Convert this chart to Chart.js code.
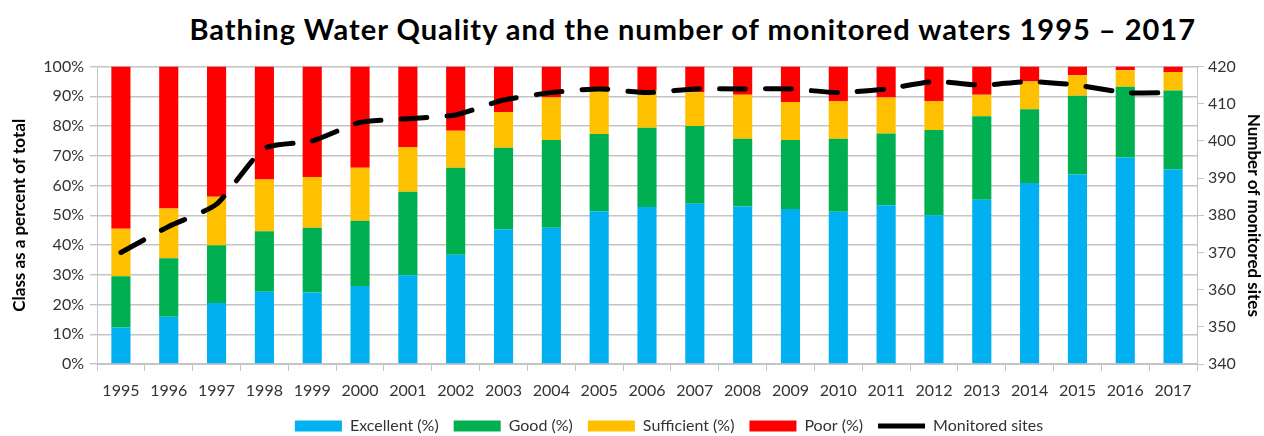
<!DOCTYPE html>
<html>
<head>
<meta charset="utf-8">
<script src="https://cdn.jsdelivr.net/npm/chart.js@4"></script>
<style>
  body { margin: 0; background: #fff; }
  #title {
    width: 1264px; height: 51px; box-sizing: border-box;
    padding-right: 68px; text-align: right;
    font: bold 29px Lato, sans-serif; letter-spacing: 1px; line-height: 58px; color: #000;
    white-space: nowrap; overflow: visible;
  }
  #wrap { width: 1264px; height: 385px; }
</style>
</head>
<body>
<div id="title">Bathing Water Quality and the number of monitored waters 1995 – 2017</div>
<div id="wrap"><canvas id="myChart"></canvas></div>
<script>
const years = ['1995','1996','1997','1998','1999','2000','2001','2002','2003','2004','2005','2006',
  '2007','2008','2009','2010','2011','2012','2013','2014','2015','2016','2017'];

const excellent  = [12.3, 15.9, 20.5, 24.3, 24.0, 26.2, 29.8, 36.7, 45.3, 45.8, 51.4, 52.8,
  53.9, 53.0, 52.1, 51.2, 53.4, 50.0, 55.2, 60.9, 63.7, 69.4, 65.4];
const good       = [17.2, 19.7, 19.4, 20.3, 21.8, 22.0, 28.1, 29.3, 27.4, 29.5, 25.9, 26.6,
  26.1, 22.7, 23.2, 24.5, 24.1, 28.7, 28.1, 24.8, 26.5, 23.8, 26.6];
const sufficient = [16.0, 16.7, 16.3, 17.4, 17.1, 17.8, 15.1, 12.4, 12.0, 14.3, 14.6, 12.5,
  11.4, 14.8, 12.8, 12.7, 12.1, 9.7, 7.2, 9.3, 6.9, 5.6, 6.2];
const poor       = [54.5, 47.7, 43.8, 38.0, 37.1, 34.0, 27.0, 21.6, 15.3, 10.4, 8.1, 8.1,
  8.6, 9.5, 11.9, 11.6, 10.4, 11.6, 9.5, 5.0, 2.9, 1.2, 1.8];
const monitoredSites = [370, 377, 383, 398, 400, 405, 406, 407, 411, 413, 414, 413,
  414, 414, 414, 413, 414, 416, 415, 416, 415, 413, 413];

const font = 'Lato, sans-serif';
const gridGrey = '#c4c4c4';
const tickColour = '#333';

function bar(label, values, colour) {
  return {
    type: 'bar', label: label, data: values,
    backgroundColor: colour, borderWidth: 0,
    barPercentage: 0.4, categoryPercentage: 1,
    pointStyle: 'rect',
    yAxisID: 'y', order: 1
  };
}

const data = {
  labels: years,
  datasets: [
    bar('Excellent (%)', excellent, '#00b0f0'),
    bar('Good (%)', good, '#00b050'),
    bar('Sufficient (%)', sufficient, '#ffc000'),
    bar('Poor (%)', poor, '#ff0000'),
    {
      type: 'line', label: 'Monitored sites', data: monitoredSites,
      borderColor: '#000', backgroundColor: '#000',
      borderWidth: 5, borderDash: [26, 20], borderCapStyle: 'round',
      tension: 0.2, pointRadius: 0, pointStyle: 'line',
      yAxisID: 'y1', order: 0
    }
  ]
};

// legend in the original sits a little right of the plot centre
const legendNudge = {
  id: 'legendNudge',
  afterLayout(chart) {
    chart.legend.left += 22;
    chart.legend.right += 22;
  }
};

const config = {
  type: 'bar',
  data: data,
  plugins: [legendNudge],
  options: {
    responsive: true,
    maintainAspectRatio: false,
    animation: false,
    layout: { padding: { top: 8, bottom: -8, left: 0, right: 0 } },
    plugins: {
      title: { display: false },
      tooltip: { enabled: false },
      legend: {
        position: 'bottom',
        fullSize: false,
        labels: {
          font: { family: font, size: 16 }, color: tickColour,
          usePointStyle: true, pointStyleWidth: 47, boxHeight: 11, padding: 15,
          sort: (a, b) => a.datasetIndex - b.datasetIndex,
          generateLabels: chart => {
            const items = Chart.defaults.plugins.legend.labels.generateLabels(chart);
            items.forEach(it => {
              if (it.pointStyle === 'line') { it.lineDash = []; it.lineWidth = 5; }
            });
            return items;
          }
        }
      }
    },
    scales: {
      x: {
        stacked: true,
        afterFit: s => { s.height = 39; },
        grid: { drawOnChartArea: false, tickLength: 7, color: gridGrey, offset: true },
        border: { color: gridGrey },
        ticks: { font: { family: font, size: 16 }, color: tickColour, maxRotation: 0, padding: 10 }
      },
      y: {
        stacked: true, min: 0, max: 100,
        afterFit: s => { s.width = 97; },
        grid: { color: gridGrey, lineWidth: 1.4, tickLength: 7 },
        border: { color: gridGrey },
        ticks: { stepSize: 10, font: { family: font, size: 16 }, color: tickColour, padding: 6,
          callback: v => v + '%' },
        title: { display: true, text: 'Class as a percent of total',
          font: { family: font, size: 17, weight: 'bold' }, color: '#000',
          padding: { top: 9, bottom: 0 } }
      },
      y1: {
        position: 'right', min: 340, max: 420,
        afterFit: s => { s.width = 67; },
        grid: { drawOnChartArea: false, tickLength: 7, color: gridGrey },
        border: { color: gridGrey },
        ticks: { stepSize: 10, font: { family: font, size: 16 }, color: tickColour, padding: 4 },
        title: { display: true, text: 'Number of monitored sites',
          font: { family: font, size: 17, weight: 'bold' }, color: '#000',
          padding: { top: 0, bottom: 0 } }
      }
    }
  }
};

let myChart = new Chart(document.getElementById('myChart'), config);
</script>
</body>
</html>
